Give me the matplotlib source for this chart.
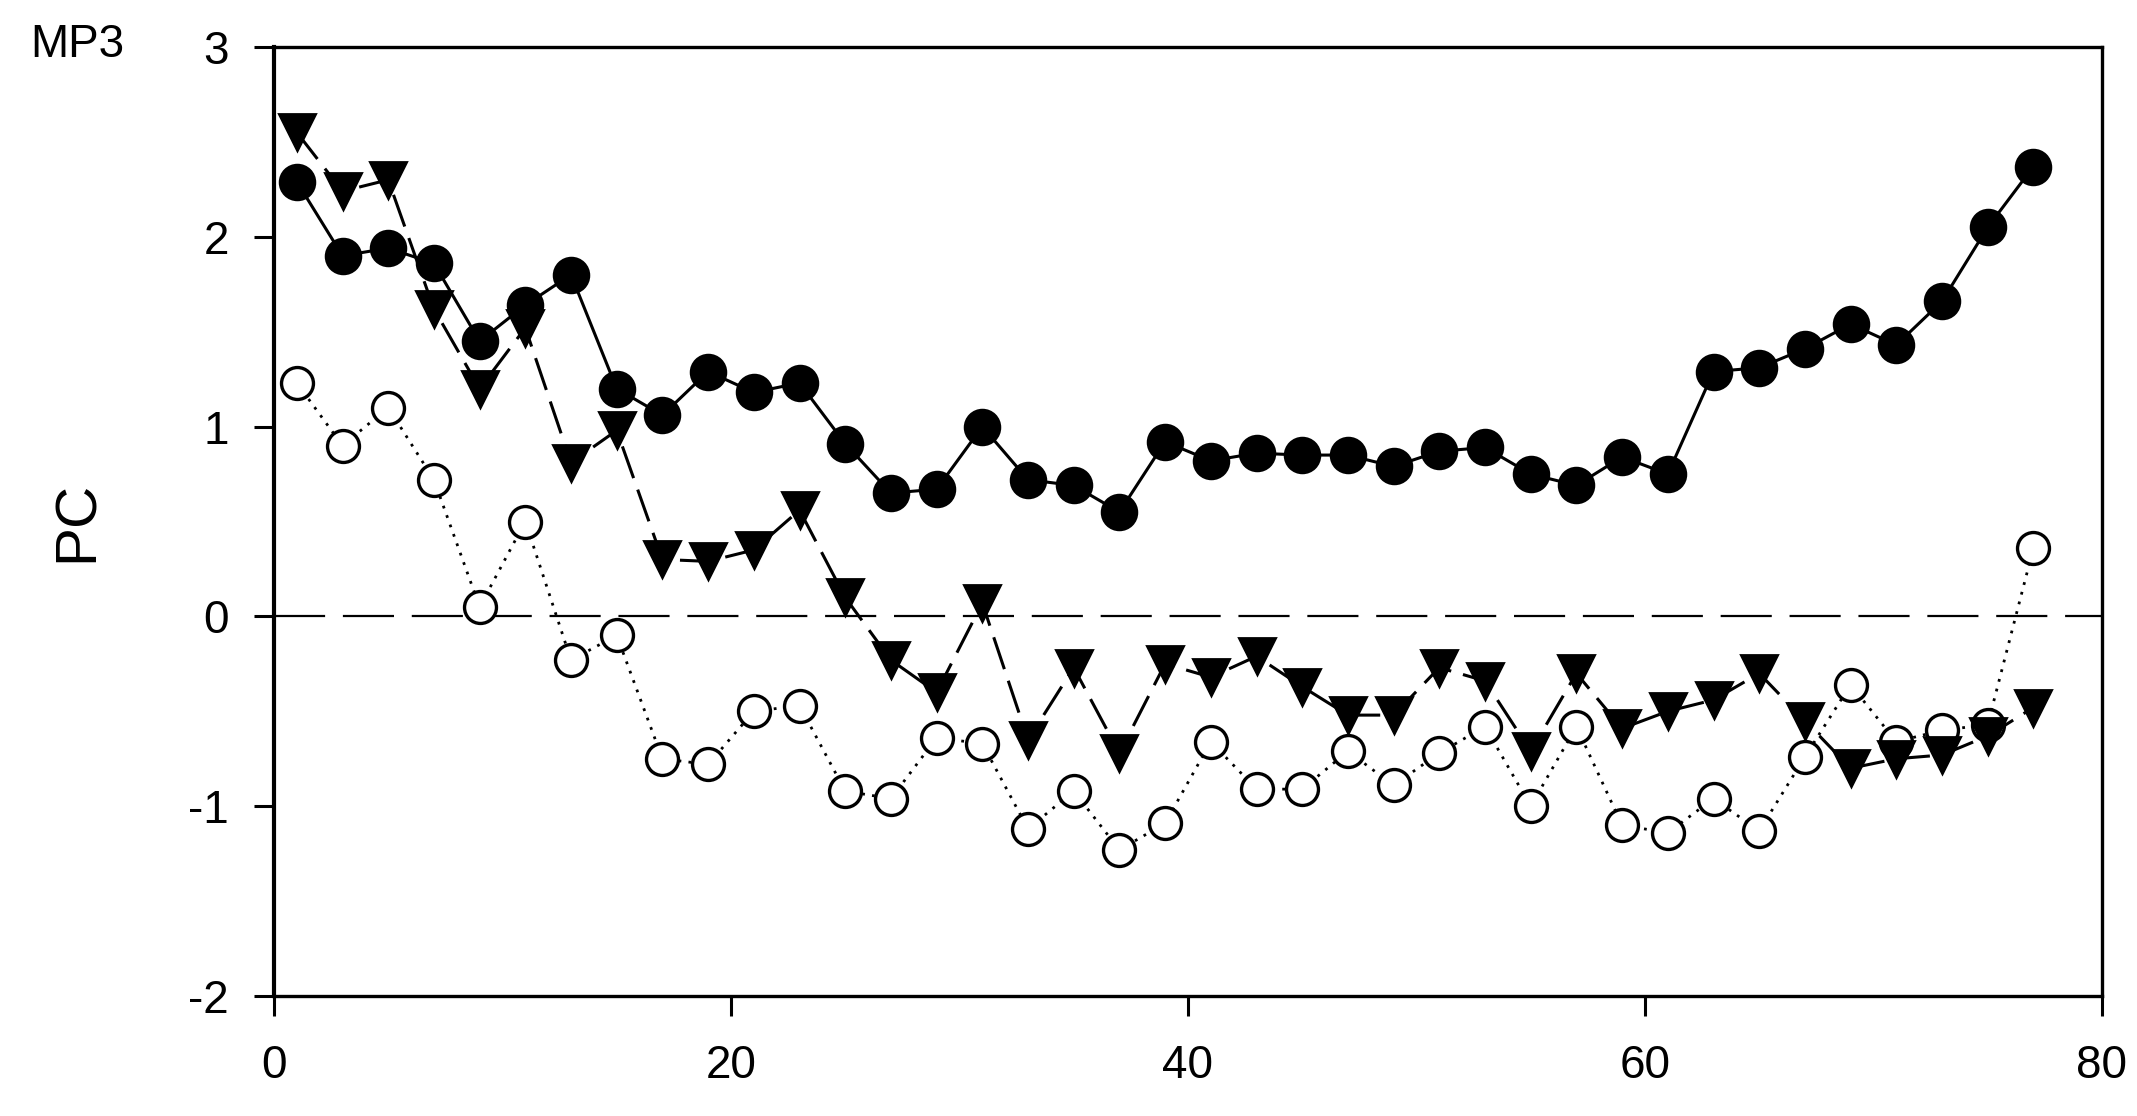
import matplotlib
matplotlib.use("Agg")
import matplotlib.pyplot as plt

plt.rcParams['font.family'] = ['Liberation Sans', 'DejaVu Sans']

# x positions (every second day)
x = list(range(1, 78, 2))

# filled circles, solid line
pc_filled = [2.29, 1.90, 1.94, 1.86, 1.45, 1.64, 1.80, 1.20, 1.06, 1.29,
             1.18, 1.23, 0.91, 0.65, 0.67, 1.00, 0.72, 0.69, 0.55, 0.92,
             0.82, 0.86, 0.85, 0.85, 0.79, 0.87, 0.89, 0.75, 0.69, 0.84,
             0.75, 1.29, 1.31, 1.41, 1.54, 1.43, 1.66, 2.05, 2.37]

# down triangles, dashed line
pc_tri = [2.55, 2.24, 2.30, 1.62, 1.20, 1.52, 0.81, 0.98, 0.30, 0.29,
          0.35, 0.56, 0.10, -0.23, -0.40, 0.07, -0.65, -0.27, -0.72, -0.25,
          -0.32, -0.21, -0.37, -0.52, -0.52, -0.27, -0.34, -0.71, -0.30, -0.59,
          -0.50, -0.44, -0.30, -0.55, -0.80, -0.75, -0.73, -0.63, -0.48]

# open circles, dotted line
pc_open = [1.23, 0.90, 1.10, 0.72, 0.05, 0.50, -0.23, -0.10, -0.75, -0.78,
           -0.50, -0.47, -0.92, -0.96, -0.64, -0.67, -1.12, -0.92, -1.23, -1.09,
           -0.66, -0.91, -0.91, -0.71, -0.89, -0.72, -0.58, -1.00, -0.58, -1.10,
           -1.14, -0.96, -1.13, -0.74, -0.36, -0.66, -0.60, -0.57, 0.36]

xticks = [0, 20, 40, 60, 80]
yticks = [-2, -1, 0, 1, 2, 3]

fig = plt.figure(figsize=(10.685, 5.58), dpi=200)
ax = fig.add_axes([0.1282, 0.1075, 0.8554, 0.8504])

# zero reference line
ax.axhline(0, color='black', lw=0.8, linestyle=(0, (23, 8)), zorder=1)

ax.plot(x, pc_open, color='black', lw=1.0, linestyle=(0, (1, 2.6)),
        marker='o', markersize=11.5, markerfacecolor='white',
        markeredgecolor='black', markeredgewidth=1.2, zorder=3)
ax.plot(x, pc_filled, color='black', lw=1.1, linestyle='-',
        marker='o', markersize=12.5, markerfacecolor='black',
        markeredgecolor='black', zorder=4)
ax.plot(x, pc_tri, color='black', lw=1.1, linestyle=(0, (11, 4)),
        marker='v', markersize=13, markerfacecolor='black',
        markeredgecolor='black', zorder=5)

ax.set_xlim(0, 80)
ax.set_ylim(-2, 3)
ax.set_xticks(xticks)
ax.set_yticks(yticks)
ax.set_yticklabels([str(v) for v in yticks])

for s in ax.spines.values():
    s.set_linewidth(1.2)
ax.spines['left'].set_linewidth(1.5)

ax.tick_params(axis='both', direction='out', length=7.2, width=1.1,
               labelsize=16.5, colors='black')
ax.tick_params(axis='y', pad=9)
ax.tick_params(axis='x', pad=10)

ax.set_ylabel('PC', fontsize=21, labelpad=30)
fig.text(77 / 2137, 1 - 45 / 1116, 'MP3', fontsize=16.5,
         ha='center', va='center')

fig.savefig('out.png', dpi=200, facecolor='white')
